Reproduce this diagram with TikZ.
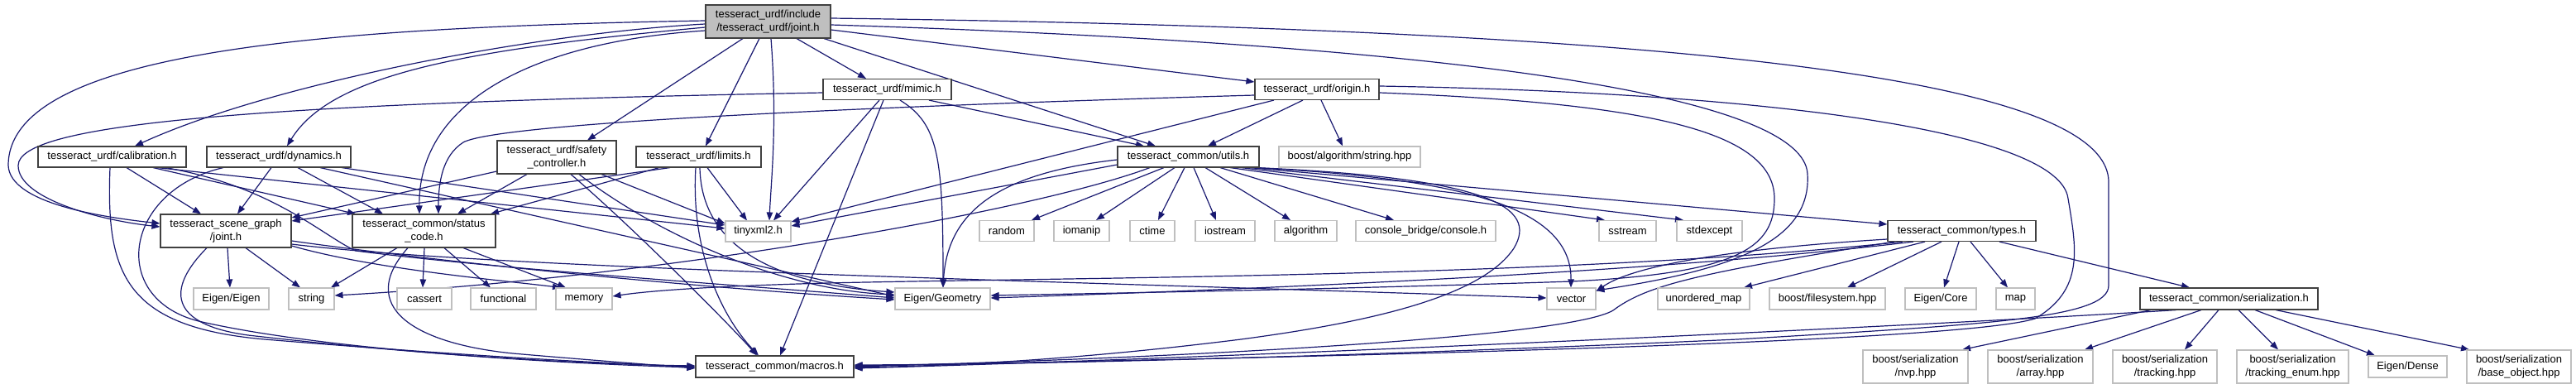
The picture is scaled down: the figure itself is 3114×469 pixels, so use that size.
\documentclass[tikz,border=0pt]{standalone}
\usepackage{fontspec}
\setmainfont{Liberation Sans}
\usetikzlibrary{arrows.meta}
\definecolor{edgec}{HTML}{191970}
\definecolor{grayb}{HTML}{BFBFBF}
\definecolor{docb}{HTML}{404040}
\pgfdeclarelayer{background}
\pgfsetlayers{background,main}
\tikzset{
  doc/.style={draw=docb, line width=1.1pt, fill=white, inner sep=0pt, align=center, font=\fontsize{13pt}{15.5pt}\selectfont},
  ext/.style={doc, draw=grayb},
  ed/.style={draw=edgec, line width=1.2pt, -{Triangle[length=10pt,width=7.5pt]}}
}
\begin{document}
\begin{tikzpicture}[x=1pt,y=-1pt]
\useasboundingbox (0,0) rectangle (3114,469);
% ---- documented nodes
\node[doc, fill=grayb, minimum width=151, minimum height=40] (root) at (928.5,26) {tesseract\_urdf/include\\/tesseract\_urdf/joint.h};
\node[doc, minimum width=179, minimum height=25] (calib) at (135.5,189.5) {tesseract\_urdf/calibration.h};
\node[doc, minimum width=174, minimum height=25] (dyn) at (337,189.5) {tesseract\_urdf/dynamics.h};
\node[doc, minimum width=144, minimum height=40] (safety) at (673,190) {tesseract\_urdf/safety\\\_controller.h};
\node[doc, minimum width=151, minimum height=25] (limits) at (844.5,189.5) {tesseract\_urdf/limits.h};
\node[doc, minimum width=155, minimum height=25] (mimic) at (1072.5,108) {tesseract\_urdf/mimic.h};
\node[doc, minimum width=150, minimum height=25] (origin) at (1592,108) {tesseract\_urdf/origin.h};
\node[doc, minimum width=171, minimum height=25] (utils) at (1436.5,189.5) {tesseract\_common/utils.h};
\node[doc, minimum width=158, minimum height=40] (scene) at (273,279) {tesseract\_scene\_graph\\/joint.h};
\node[doc, minimum width=173, minimum height=40] (status) at (512.5,279) {tesseract\_common/status\\\_code.h};
\node[doc, minimum width=179, minimum height=25] (types) at (2371.5,279) {tesseract\_common/types.h};
\node[doc, minimum width=215, minimum height=26] (ser) at (2694.5,361) {tesseract\_common/serialization.h};
\node[doc, minimum width=191, minimum height=26] (macros) at (936.5,443) {tesseract\_common/macros.h};
% ---- external nodes
\node[ext, minimum width=171, minimum height=25] (bstr) at (1631.5,189.5) {boost/algorithm/string.hpp};
\node[ext, minimum width=79, minimum height=25] (tinyxml) at (916.5,279.5) {tinyxml2.h};
\node[ext, minimum width=66, minimum height=25] (random) at (1217,279) {random};
\node[ext, minimum width=67, minimum height=25] (iomanip) at (1307.5,279) {iomanip};
\node[ext, minimum width=54, minimum height=25] (ctime) at (1393,279) {ctime};
\node[ext, minimum width=72, minimum height=25] (iostream) at (1481,279) {iostream};
\node[ext, minimum width=75, minimum height=25] (algorithm) at (1578.5,279) {algorithm};
\node[ext, minimum width=169, minimum height=25] (console) at (1723.5,279) {console\_bridge/console.h};
\node[ext, minimum width=69, minimum height=25] (sstream) at (1967.5,279) {sstream};
\node[ext, minimum width=79, minimum height=25] (stdexcept) at (2066.5,279) {stdexcept};
\node[ext, minimum width=91, minimum height=26] (eigen) at (279.5,361) {Eigen/Eigen};
\node[ext, minimum width=55, minimum height=26] (string) at (376.5,361) {string};
\node[ext, minimum width=66, minimum height=26] (cassert) at (513,361) {cassert};
\node[ext, minimum width=79, minimum height=26] (functional) at (608.5,361) {functional};
\node[ext, minimum width=68, minimum height=26] (memory) at (706,361) {memory};
\node[ext, minimum width=115, minimum height=26] (geo) at (1139.5,361) {Eigen/Geometry};
\node[ext, minimum width=59, minimum height=26] (vector) at (1899.5,361) {vector};
\node[ext, minimum width=111, minimum height=26] (umap) at (2059.5,361) {unordered\_map};
\node[ext, minimum width=140, minimum height=26] (fs) at (2209,361) {boost/filesystem.hpp};
\node[ext, minimum width=86, minimum height=26] (core) at (2346,361) {Eigen/Core};
\node[ext, minimum width=47, minimum height=26] (map) at (2436.5,361) {map};
\node[ext, minimum width=127, minimum height=40] (nvp) at (2315.5,443) {boost/serialization\\/nvp.hpp};
\node[ext, minimum width=127, minimum height=40] (array) at (2466.5,443) {boost/serialization\\/array.hpp};
\node[ext, minimum width=126, minimum height=40] (tracking) at (2617,443) {boost/serialization\\/tracking.hpp};
\node[ext, minimum width=135, minimum height=40] (tenum) at (2771.5,443) {boost/serialization\\/tracking\_enum.hpp};
\node[ext, minimum width=95, minimum height=26] (dense) at (2910.5,443) {Eigen/Dense};
\node[ext, minimum width=126, minimum height=40] (base) at (3045,443) {boost/serialization\\/base\_object.hpp};

\begin{pgfonlayer}{background}
% ---- root
\draw[ed] (root.west |- 0,29) .. controls (650,40) and (330,100) .. (163,0 |- calib.north);
\draw[ed] (root.west |- 0,33) .. controls (560,60) and (400,90) .. (347,0 |- dyn.north);
\draw[ed] (root.west |- 0,37) .. controls (650,50) and (505,120) .. (507,0 |- status.north);
\draw[ed] (898,0 |- root.south) -- (710,0 |- safety.north);
\draw[ed] (918,0 |- root.south) -- (853,0 |- limits.north);
\draw[ed] (932,0 |- root.south) .. controls (940,150) and (932,220) .. (930,0 |- tinyxml.north);
\draw[ed] (963,0 |- root.south) -- (1047,0 |- mimic.north);
\draw[ed] (root.east |- 0,36) -- (origin.west |- 0,99);
\draw[ed] (996,0 |- root.south) -- (1397,0 |- utils.north);
\draw[ed] (root.west |- 0,25) .. controls (400,33) and (10,60) .. (10,200) .. controls (12,245) and (120,262) .. (scene.west |- 0,270);
\draw[ed] (root.east |- 0,22) .. controls (2000,35) and (2549,90) .. (2549,220) -- (2549,345) .. controls (2549,385) and (2400,392) .. (2100,410) .. controls (1700,428) and (1300,440) .. (macros.east |- 0,441);
\draw[ed] (root.east |- 0,30) .. controls (1800,55) and (2180,120) .. (2185,210) .. controls (2190,290) and (2100,325) .. (vector.east |- 0,351);
% ---- mimic
\draw[ed] (mimic.west |- 0,112) .. controls (300,125) and (22,150) .. (22,200) .. controls (22,240) and (120,266) .. (scene.west |- 0,274);
\draw[ed] (1063,0 |- mimic.south) -- (935,0 |- tinyxml.north);
\draw[ed] (1068,0 |- mimic.south) -- (943,0 |- macros.north);
\draw[ed] (1088,0 |- mimic.south) .. controls (1135,150) and (1140,190) .. (1140,0 |- geo.north);
\draw[ed] (1123,0 |- mimic.south) -- (1383,0 |- utils.north);
% ---- safety
\draw[ed] (safety.west |- 0,207) -- (scene.east |- 0,263);
\draw[ed] (637,0 |- safety.south) -- (553,0 |- status.north);
\draw[ed] (690,0 |- safety.south) .. controls (760,270) and (880,390) .. (915,0 |- macros.north);
\draw[ed] (700,0 |- safety.south) .. controls (790,280) and (940,350) .. (geo.west |- 0,356);
\draw[ed] (727,0 |- safety.south) -- (tinyxml.west |- 0,270);
% ---- limits
\draw[ed] (810,0 |- limits.south) -- (scene.east |- 0,267);
\draw[ed] (797,0 |- limits.south) -- (593,0 |- status.north);
\draw[ed] (841,0 |- limits.south) .. controls (835,300) and (870,380) .. (917,0 |- macros.north);
\draw[ed] (846,0 |- limits.south) .. controls (848,310) and (960,345) .. (geo.west |- 0,353);
\draw[ed] (855,0 |- limits.south) -- (903,0 |- tinyxml.north);
% ---- calibration
\draw[ed] (153,0 |- calib.south) -- (243,0 |- scene.north);
\draw[ed] (133,0 |- calib.south) .. controls (128,330) and (150,395) .. (320,410) .. controls (500,425) and (700,438) .. (macros.west |- 0,443);
\draw[ed] (185,0 |- calib.south) -- (430,0 |- status.north);
\draw[ed] (190,0 |- calib.south) -- (tinyxml.west |- 0,276);
\draw[ed] (200,0 |- calib.south) .. controls (330,225) and (390,285) .. (430,303) .. controls (600,325) and (900,345) .. (geo.west |- 0,360);
% ---- dynamics
\draw[ed] (270,0 |- dyn.south) .. controls (150,230) and (130,360) .. (240,388) .. controls (400,425) and (700,440) .. (macros.west |- 0,444);
\draw[ed] (328,0 |- dyn.south) -- (287,0 |- scene.north);
\draw[ed] (360,0 |- dyn.south) -- (463,0 |- status.north);
\draw[ed] (413,0 |- dyn.south) -- (tinyxml.west |- 0,272);
\draw[ed] (387,0 |- dyn.south) -- (geo.west |- 0,358);
% ---- scene graph joint
\draw[ed] (275,0 |- scene.south) -- (278,0 |- eigen.north);
\draw[ed] (297,0 |- scene.south) -- (363,0 |- string.north);
\draw[ed] (250,0 |- scene.south) .. controls (200,350) and (205,392) .. (300,405) .. controls (500,428) and (700,440) .. (macros.west |- 0,442);
\draw[ed] (scene.east |- 0,291) .. controls (500,312) and (800,345) .. (geo.west |- 0,362);
\draw[ed] (scene.east |- 0,295) .. controls (600,325) and (1300,340) .. (vector.west |- 0,360);
\draw[ed] (scene.east |- 0,297) .. controls (450,325) and (600,338) .. (678,0 |- memory.north);
% ---- status code
\draw[ed] (513,0 |- status.south) -- (511,0 |- cassert.north);
\draw[ed] (537,0 |- status.south) -- (593,0 |- functional.north);
\draw[ed] (560,0 |- status.south) -- (684,0 |- memory.north);
\draw[ed] (480,0 |- status.south) -- (400,0 |- string.north);
\draw[ed] (493,0 |- status.south) .. controls (430,370) and (500,415) .. (620,427) .. controls (700,434) and (780,440) .. (macros.west |- 0,445);
% ---- utils
\draw[ed] (1407,0 |- utils.south) -- (1247,0 |- random.north);
\draw[ed] (1420,0 |- utils.south) -- (1325,0 |- iomanip.north);
\draw[ed] (1432,0 |- utils.south) -- (1400,0 |- ctime.north);
\draw[ed] (1443,0 |- utils.south) -- (1470,0 |- iostream.north);
\draw[ed] (1457,0 |- utils.south) -- (1560,0 |- algorithm.north);
\draw[ed] (1475,0 |- utils.south) -- (1685,0 |- console.north);
\draw[ed] (1487,0 |- utils.south) -- (1940,0 |- sstream.north);
\draw[ed] (1500,0 |- utils.south) -- (2035,0 |- stdexcept.north);
\draw[ed] (1510,0 |- utils.south) -- (types.west |- 0,271);
\draw[ed] (1515,0 |- utils.south) .. controls (1750,215) and (1900,245) .. (1899,0 |- vector.north);
\draw[ed] (utils.west |- 0,199) -- (tinyxml.east |- 0,273);
\draw[ed] (utils.west |- 0,193) .. controls (1200,210) and (1145,260) .. (1140,0 |- geo.north);
\draw[ed] (1390,0 |- utils.south) .. controls (1250,255) and (800,335) .. (string.east |- 0,357);
\draw[ed] (1518,0 |- utils.south) .. controls (1800,215) and (1860,250) .. (1830,300) .. controls (1790,360) and (1650,390) .. (1500,410) .. controls (1300,435) and (1150,442) .. (macros.east |- 0,444);
% ---- origin
\draw[ed] (1575,0 |- origin.south) -- (1460,0 |- utils.north);
\draw[ed] (1597,0 |- origin.south) -- (1623,0 |- bstr.north);
\draw[ed] (1540,0 |- origin.south) -- (tinyxml.east |- 0,268);
\draw[ed] (origin.west |- 0,115) .. controls (1000,130) and (600,150) .. (560,172) .. controls (535,188) and (530,220) .. (530,0 |- status.north);
\draw[ed] (origin.east |- 0,104) .. controls (2150,112) and (2490,160) .. (2500,240) .. controls (2510,300) and (2520,350) .. (2460,385) .. controls (2380,410) and (1800,428) .. (macros.east |- 0,442);
\draw[ed] (origin.east |- 0,112) .. controls (2000,125) and (2145,160) .. (2145,240) .. controls (2145,300) and (2100,330) .. (1900,340) .. controls (1600,350) and (1300,355) .. (geo.east |- 0,357);
% ---- types
\draw[ed] (2417,0 |- types.south) -- (2647,0 |- ser.north);
\draw[ed] (2382,0 |- types.south) -- (2427,0 |- map.north);
\draw[ed] (2368,0 |- types.south) -- (2350,0 |- core.north);
\draw[ed] (2347,0 |- types.south) -- (2233,0 |- fs.north);
\draw[ed] (2327,0 |- types.south) -- (2108,0 |- umap.north);
\draw[ed] (types.west |- 0,289) .. controls (2100,300) and (1975,320) .. (vector.east |- 0,352);
\draw[ed] (2313,0 |- types.south) .. controls (2000,330) and (1500,350) .. (geo.east |- 0,360);
\draw[ed] (2300,0 |- types.south) .. controls (1900,335) and (1300,335) .. (1000,342) .. controls (850,346) and (780,352) .. (memory.east |- 0,358);
\draw[ed] (2290,0 |- types.south) .. controls (2050,330) and (1990,345) .. (1950,375) .. controls (1900,405) and (1500,430) .. (macros.east |- 0,443);
% ---- serialization
\draw[ed] (2631,0 |- ser.south) .. controls (2300,395) and (1500,432) .. (macros.east |- 0,445);
\draw[ed] (2600,0 |- ser.south) -- (2372,0 |- nvp.north);
\draw[ed] (2661,0 |- ser.south) -- (2520,0 |- array.north);
\draw[ed] (2682,0 |- ser.south) -- (2641,0 |- tracking.north);
\draw[ed] (2706,0 |- ser.south) -- (2754,0 |- tenum.north);
\draw[ed] (2726,0 |- ser.south) -- (2871,0 |- dense.north);
\draw[ed] (2751,0 |- ser.south) -- (2985,0 |- base.north);
\end{pgfonlayer}
\end{tikzpicture}
\end{document}
